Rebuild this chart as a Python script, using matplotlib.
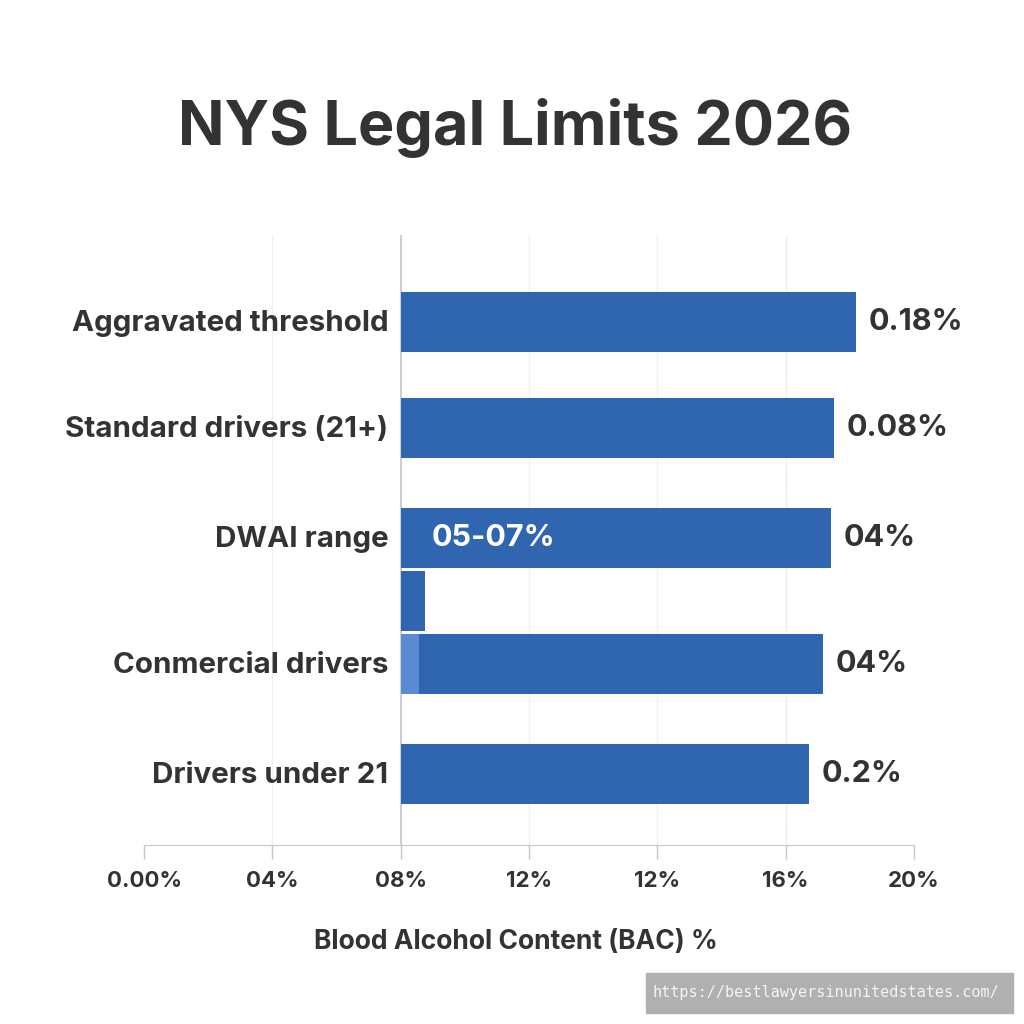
import numpy as np
import matplotlib
matplotlib.use("Agg")
import matplotlib.pyplot as plt
from matplotlib.patches import Rectangle

plt.rcParams['font.family'] = ['Inter', 'DejaVu Sans']

# data (x in axis units, one tick = 4 units)
categories = ["Aggravated threshold", "Standard drivers (21+)", "DWAI range",
              "", "Conmercial drivers", "Drivers under 21"]
rows = [4.23, 3.24, 2.21, 1.62, 1.03, 0.0]
bar_start = 8
bar_end = [22.19, 21.51, 21.42, 8.76, 21.17, 20.73]
value_labels = ["0.18%", "0.08%", "04%", "", "04%", "0.2%"]
tick_pos = [0, 4, 8, 12, 16, 20, 24]
tick_labels = ["0.00%", "04%", "08%", "12%", "12%", "16%", "20%"]
light_end = 8.57   # lighter strip at the left of the commercial bar

blue = "#3066b0"
txt = "#333333"

fig = plt.figure(figsize=(10.24, 10.24), dpi=100)
ax = fig.add_axes([144/1024, 1-845/1024, 770/1024, 610/1024])

widths = [e - bar_start for e in bar_end]
ax.barh(rows, widths, left=bar_start, height=0.56, color=blue, zorder=3)
ax.barh(rows[4], light_end - bar_start, left=bar_start, height=0.56,
        color="#5a8ad2", zorder=4)

for r, e, lab in zip(rows, bar_end, value_labels):
    if lab:
        ax.annotate(lab, (e, r), xytext=(9, 0), textcoords="offset points",
                    ha="left", va="center", fontsize=22, fontweight="bold", color=txt)

ax.annotate("05-07%", (bar_start, rows[2]), xytext=(22, 0), textcoords="offset points",
            ha="left", va="center", fontsize=22, fontweight="bold", color="white", zorder=5)

# category labels on the left
for r, c in zip(rows, categories):
    if c:
        ax.annotate(c, (bar_start, r), xytext=(-9, -1), textcoords="offset points",
                    ha="right", va="center", fontsize=21.3, fontweight="bold", color=txt)

ax.set_xlim(0, 24)
ax.set_ylim(-0.66, 5.04)
ax.set_xticks(tick_pos)
ax.set_xticklabels(tick_labels, fontsize=16, fontweight="bold", color=txt)
ax.tick_params(axis="x", length=10, width=1, color="#c8c8c8", pad=9)
ax.set_yticks([])
for s in ["top", "right", "left"]:
    ax.spines[s].set_visible(False)
ax.spines["bottom"].set_color("#c8c8c8")
ax.axvline(bar_start, color="#c8c8c8", lw=1.2, zorder=2)
for t in tick_pos[1:]:
    ax.axvline(t, color="#f0f0f0", lw=1, zorder=1)

ax.set_xlabel("Blood Alcohol Content (BAC) %", fontsize=19, fontweight="bold",
              color=txt, va="center")
ax.xaxis.set_label_coords((516-144)/770, -(942-845)/610)

fig.text(0.503, 1-128/1024, "NYS Legal Limits 2026", ha="center", va="center",
         fontsize=44, fontweight="bold", color=txt)

# watermark box
fig.patches.append(Rectangle((646/1024, 1-1013/1024), 367/1024, 40/1024,
                             transform=fig.transFigure, color="#b0b0b0"))
fig.text(826/1024, 1-993/1024, "https://bestlawyersinunitedstates.com/",
         ha="center", va="center", fontsize=11, family="DejaVu Sans Mono", color="#f4f4f4")

fig.savefig("out.png", dpi=100)
